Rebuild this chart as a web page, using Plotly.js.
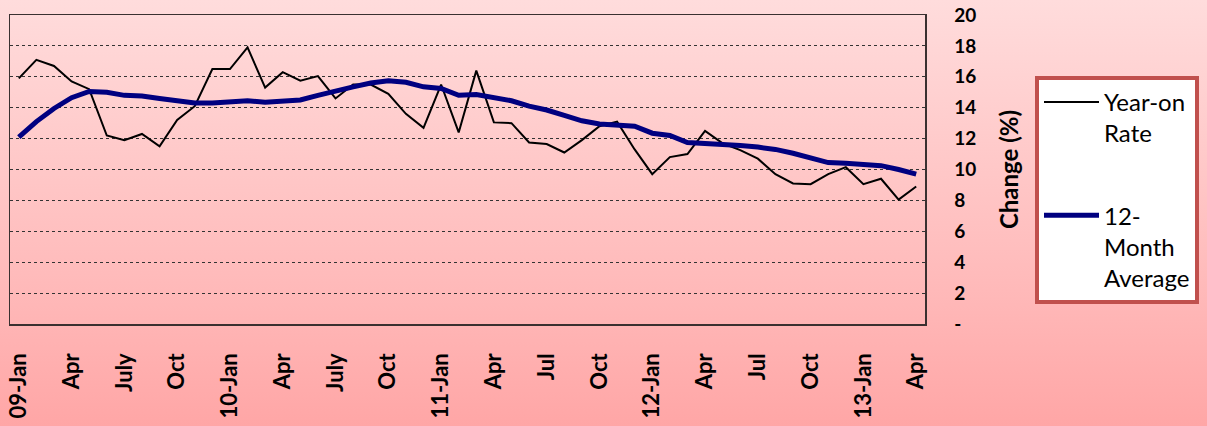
<!DOCTYPE html>
<html>
<head>
<meta charset="utf-8">
<script src="https://cdn.plot.ly/plotly-3.0.1.min.js"></script>
<style>
  html, body { margin: 0; padding: 0; }
  body { width: 1207px; height: 426px; background: linear-gradient(to bottom, #FFDCDC 0%, #FFB8B8 70%, #FFA6A6 100%); overflow: hidden; }
  #chart { width: 1207px; height: 426px; }
</style>
</head>
<body>
<div id="chart"></div>
<script>
// Monthly categories Jan 2009 .. Apr 2013
const months = [
  '2009-01','2009-02','2009-03','2009-04','2009-05','2009-06','2009-07','2009-08','2009-09','2009-10','2009-11','2009-12',
  '2010-01','2010-02','2010-03','2010-04','2010-05','2010-06','2010-07','2010-08','2010-09','2010-10','2010-11','2010-12',
  '2011-01','2011-02','2011-03','2011-04','2011-05','2011-06','2011-07','2011-08','2011-09','2011-10','2011-11','2011-12',
  '2012-01','2012-02','2012-03','2012-04','2012-05','2012-06','2012-07','2012-08','2012-09','2012-10','2012-11','2012-12',
  '2013-01','2013-02','2013-03','2013-04'
];

const yearOnRate = [
  15.9, 17.1, 16.7, 15.7, 15.2, 12.2, 11.9, 12.3, 11.5, 13.2, 14.1, 16.5,
  16.5, 17.9, 15.3, 16.3, 15.75, 16.05, 14.6, 15.5, 15.5, 14.9, 13.6, 12.7,
  15.5, 12.4, 16.4, 13.05, 13.0, 11.75, 11.65, 11.1, 11.9, 12.8, 13.1, 11.3,
  9.7, 10.8, 11.0, 12.5, 11.7, 11.25, 10.7, 9.7, 9.1, 9.05, 9.7, 10.15,
  9.05, 9.4, 8.05, 8.9
];

const twelveMonthAvg = [
  12.1, 13.1, 13.95, 14.65, 15.05, 15.0, 14.8, 14.75, 14.6, 14.45, 14.3, 14.3,
  14.35, 14.45, 14.35, 14.45, 14.5, 14.8, 15.1, 15.35, 15.6, 15.75, 15.65, 15.35,
  15.25, 14.8, 14.85, 14.65, 14.45, 14.1, 13.85, 13.5, 13.15, 12.95, 12.9, 12.8,
  12.35, 12.2, 11.75, 11.7, 11.6, 11.55, 11.45, 11.3, 11.05, 10.75, 10.45, 10.4,
  10.35, 10.25, 10.0, 9.7
];

const tickMonths = ['2009-01','2009-04','2009-07','2009-10','2010-01','2010-04','2010-07','2010-10',
                    '2011-01','2011-04','2011-07','2011-10','2012-01','2012-04','2012-07','2012-10','2013-01','2013-04'];
const tickLabels = ['09-Jan','Apr','July','Oct','10-Jan','Apr','July','Oct',
                    '11-Jan','Apr','Jul','Oct','12-Jan','Apr','Jul','Oct','13-Jan','Apr'];

const yTickVals = [0, 2, 4, 6, 8, 10, 12, 14, 16, 18, 20];
const yTickText = ['-', '2', '4', '6', '8', '10', '12', '14', '16', '18', '20'];

const seriesNames = ['Year-on<br>Rate', '12-<br>Month<br>Average'];

const FONT = 'Lato, "Open Sans", sans-serif';

const traces = [
  {
    x: months, y: yearOnRate, type: 'scatter', mode: 'lines',
    name: seriesNames[0], legendgroup: 'a',
    line: { color: '#000000', width: 2 }
  },
  {
    x: months, y: twelveMonthAvg, type: 'scatter', mode: 'lines',
    name: seriesNames[1], legendgroup: 'b',
    line: { color: '#000080', width: 5 }
  }
];

const layout = {
  width: 1207, height: 426,
  margin: { l: 10, r: 282, t: 15, b: 102, pad: 0 },
  paper_bgcolor: 'rgba(0,0,0,0)',
  plot_bgcolor: 'rgba(0,0,0,0)',
  font: { family: FONT, color: '#000' },
  xaxis: {
    type: 'category',
    range: [-0.5, months.length - 0.5],
    tickmode: 'array', tickvals: tickMonths, ticktext: tickLabels,
    tickangle: -90,
    tickfont: { family: FONT, size: 22, color: '#000', weight: 'bold' },
    ticks: '', showgrid: false, zeroline: false,
    showline: true, mirror: true, linecolor: '#3a3030', linewidth: 1.5,
    ticklabelstandoff: 19,
    automargin: false
  },
  yaxis: {
    side: 'right',
    range: [0, 20],
    tickmode: 'array', tickvals: yTickVals, ticktext: yTickText,
    tickfont: { family: FONT, size: 19, color: '#000', weight: 'bold' },
    ticks: '', ticklabelstandoff: 24,
    showgrid: true, gridcolor: '#333', gridwidth: 1, griddash: 'dot',
    zeroline: false,
    showline: true, mirror: true, linecolor: '#3a3030', linewidth: 1.5,
    title: { text: 'Change (%)', font: { family: FONT, size: 24, color: '#000', weight: 'bold' }, standoff: 26 },
    automargin: false
  },
  showlegend: true,
  legend: {
    xref: 'container', yref: 'container',
    x: 0.8575, xanchor: 'left', y: 0.822, yanchor: 'top',
    bgcolor: '#FFFFFF', bordercolor: '#C0504D', borderwidth: 4,
    font: { family: FONT, size: 24, color: '#000' },
    tracegroupgap: 48,
    itemwidth: 55,
    valign: 'top',
    maxheight: 400
  }
};

Plotly.newPlot('chart', traces, layout, { displayModeBar: false, staticPlot: true });
</script>
</body>
</html>
